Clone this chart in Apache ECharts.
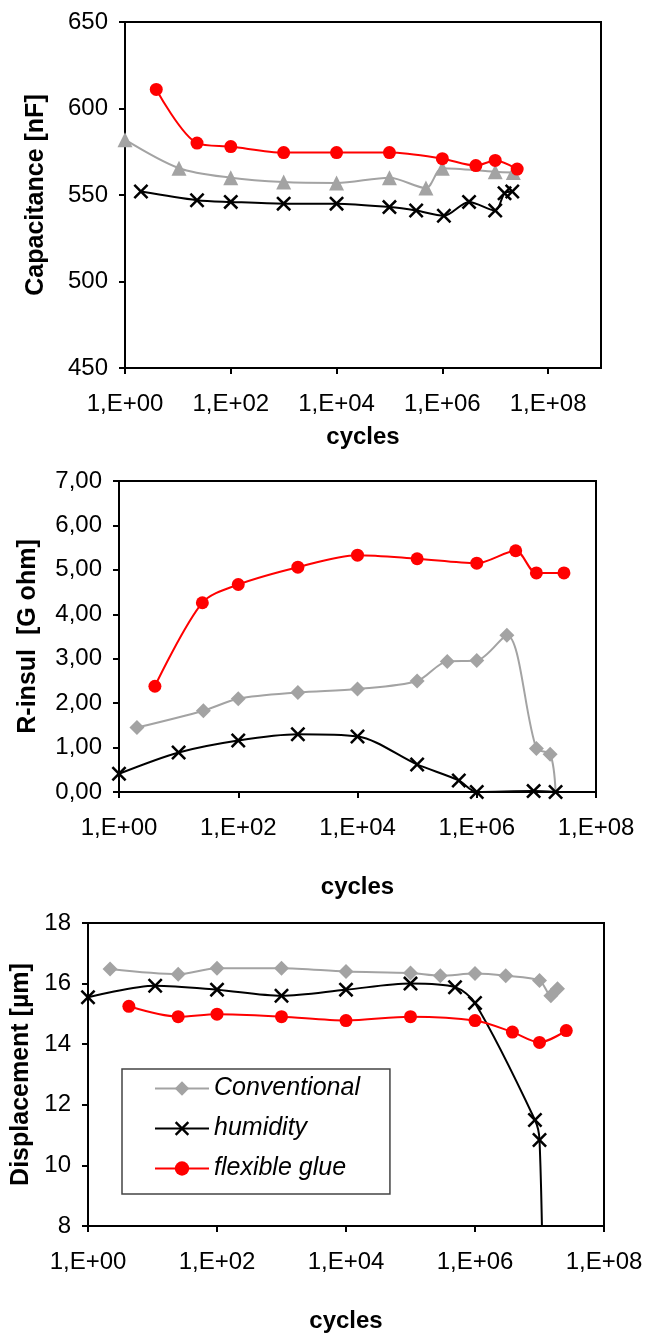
<!DOCTYPE html>
<html><head><meta charset="utf-8">
<script src="https://cdn.jsdelivr.net/npm/echarts@6/dist/echarts.min.js"></script>
<style>html,body{margin:0;padding:0;background:#fff}#c{width:647px;height:1340px}</style>
</head><body><div id="c"></div>
<script>
// ---- data ----
const seriesNames = ['Conventional', 'humidity', 'flexible glue'];
const xTickValues = [1, 1e2, 1e4, 1e6, 1e8];

// Panel 1: Capacitance [nF]
const capConvX = [1, 10.5, 100, 1000, 1e4, 1e5, 4.9e5, 1e6, 1e7, 2.2e7];
const capConvY = [582, 565.5, 560, 557.5, 557, 560, 554, 565.5, 563.5, 563];
const capHumX  = [2, 23, 100, 1000, 1e4, 1e5, 3.2e5, 1.07e6, 3.2e6, 1e7, 1.5e7, 2.1e7];
const capHumY  = [552, 547, 546, 545, 545, 543, 541, 538, 546, 541, 551, 552];
const capGlueX = [3.9, 23, 100, 1000, 1e4, 1e5, 1e6, 4.3e6, 1e7, 2.6e7];
const capGlueY = [611, 580, 578, 574.5, 574.5, 574.5, 571, 567, 570, 565];

// Panel 2: R-insul [G ohm]
const resConvX = [2, 26, 100, 1000, 1e4, 1e5, 3.2e5, 1e6, 3.2e6, 1e7, 1.7e7, 2.1e7];
const resConvY = [1.45, 1.83, 2.1, 2.24, 2.32, 2.5, 2.94, 2.96, 3.53, 0.98, 0.85, 0];
const resHumX  = [1, 10, 100, 1000, 1e4, 1e5, 5e5, 1e6, 9e6, 2.1e7];
const resHumY  = [0.41, 0.89, 1.16, 1.3, 1.25, 0.62, 0.26, 0, 0.02, 0];
const resGlueX = [4, 25, 100, 1000, 1e4, 1e5, 1e6, 4.5e6, 1e7, 2.9e7];
const resGlueY = [2.38, 4.26, 4.67, 5.06, 5.33, 5.25, 5.15, 5.43, 4.93, 4.93];

// Panel 3: Displacement [µm]
const dispConvX = [2.2, 25, 100, 1000, 1e4, 1e5, 2.9e5, 1e6, 3e6, 1e7, 1.5e7, 1.9e7];
const dispConvY = [16.48, 16.31, 16.51, 16.51, 16.4, 16.35, 16.26, 16.33, 16.26, 16.1, 15.6, 15.83];
const dispHumX  = [1, 11, 100, 1000, 1e4, 1e5, 4.9e5, 1e6, 8.5e6, 1e7, 1.15e7];
const dispHumY  = [15.55, 15.93, 15.8, 15.6, 15.8, 16.0, 15.88, 15.36, 11.5, 10.84, 5];
const dispGlueX = [4.3, 25, 100, 1000, 1e4, 1e5, 1e6, 3.8e6, 1e7, 2.6e7];
const dispGlueY = [15.25, 14.91, 14.99, 14.91, 14.78, 14.91, 14.78, 14.4, 14.06, 14.45];

// ---- chart ----
const FONT = '"Liberation Sans", Arial, Helvetica, sans-serif';
const GRAY = '#a3a3a3', RED = '#ff0000', BLACK = '#000000';
const XSYM = 'path://M0,1.2 L1.2,0 L5,3.8 L8.8,0 L10,1.2 L6.2,5 L10,8.8 L8.8,10 L5,6.2 L1.2,10 L0,8.8 L3.8,5 Z';

function pairs(xs, ys) { return xs.map((x, i) => [x, ys[i]]); }
function xLabel(v) { const e = Math.round(Math.log10(v)); return '1,E+' + (e < 10 ? '0' : '') + e; }

function xAxis(gridIndex, max, nameGap) {
  return {
    type: 'log', logBase: 10, gridIndex, min: 1, max,
    name: 'cycles', nameLocation: 'middle', nameGap,
    nameTextStyle: { fontFamily: FONT, fontSize: 24, fontWeight: 'bold', color: '#000' },
    axisLine: { show: true, onZero: false, lineStyle: { color: '#000', width: 2 } },
    axisTick: { show: true, inside: false, length: 6, lineStyle: { color: '#000', width: 2 }, customValues: xTickValues },
    axisLabel: { show: true, margin: 24, fontFamily: FONT, fontSize: 24, color: '#000', formatter: xLabel, customValues: xTickValues },
    splitLine: { show: false }, minorTick: { show: false }, minorSplitLine: { show: false }
  };
}
function yAxis(gridIndex, min, max, interval, name, nameGap, fmt) {
  return {
    type: 'value', gridIndex, min, max, interval,
    name, nameLocation: 'middle', nameGap,
    nameTextStyle: { fontFamily: FONT, fontSize: 25, fontWeight: 'bold', color: '#000' },
    axisLine: { show: true, onZero: false, lineStyle: { color: '#000', width: 2 } },
    axisTick: { show: true, inside: false, length: 6, lineStyle: { color: '#000', width: 2 } },
    axisLabel: { show: true, margin: 17, fontFamily: FONT, fontSize: 24, color: '#000', formatter: fmt },
    splitLine: { show: false }
  };
}
function line(name, idx, xs, ys, kind, convSymbol) {
  const s = {
    name, type: 'line', xAxisIndex: idx, yAxisIndex: idx, data: pairs(xs, ys),
    smooth: 0.3, animation: false, z: 3, clip: true
  };
  if (kind === 'conv') {
    Object.assign(s, { symbol: convSymbol, symbolSize: 15, lineStyle: { color: GRAY, width: 2 }, itemStyle: { color: GRAY, borderWidth: 0 } });
  } else if (kind === 'hum') {
    Object.assign(s, { symbol: XSYM, symbolSize: 15, lineStyle: { color: BLACK, width: 2 }, itemStyle: { color: BLACK, borderWidth: 0 } });
  } else {
    Object.assign(s, { symbol: 'circle', symbolSize: 13, lineStyle: { color: RED, width: 2 }, itemStyle: { color: RED, borderWidth: 0 } });
  }
  return s;
}

const chart = echarts.init(document.getElementById('c'), null, { renderer: 'canvas' });
chart.setOption({
  backgroundColor: '#fff',
  animation: false,
  grid: [
    { left: 125, right: 46, top: 22, height: 346, show: true, borderColor: '#000', borderWidth: 2, containLabel: false },
    { left: 119, right: 51, top: 481, height: 311, show: true, borderColor: '#000', borderWidth: 2, containLabel: false },
    { left: 88, right: 43, top: 923, height: 303, show: true, borderColor: '#000', borderWidth: 2, containLabel: false }
  ],
  xAxis: [xAxis(0, 1e9, 57), xAxis(1, 1e8, 83), xAxis(2, 1e8, 83)],
  yAxis: [
    yAxis(0, 450, 650, 50, 'Capacitance [nF]', 76, v => String(v)),
    yAxis(1, 0, 7, 1, 'R-insul  [G ohm]', 78, v => v.toFixed(2).replace('.', ',')),
    yAxis(2, 8, 18, 2, 'Displacement [µm]', 49, v => String(v))
  ],
  legend: {
    show: true, orient: 'vertical', left: 122, top: 1069,
    data: seriesNames, selectedMode: false,
    itemWidth: 54, itemHeight: 18, itemGap: 15,
    padding: [7, 30, 13, 32],
    borderColor: '#444', borderWidth: 1.5, backgroundColor: '#fff',
    textStyle: { fontFamily: FONT, fontSize: 25, fontStyle: 'italic', color: '#000' }
  },
  series: [
    line(seriesNames[0], 2, dispConvX, dispConvY, 'conv', 'diamond'),
    line(seriesNames[1], 2, dispHumX, dispHumY, 'hum'),
    line(seriesNames[2], 2, dispGlueX, dispGlueY, 'glue'),
    line(seriesNames[0], 0, capConvX, capConvY, 'conv', 'triangle'),
    line(seriesNames[1], 0, capHumX, capHumY, 'hum'),
    line(seriesNames[2], 0, capGlueX, capGlueY, 'glue'),
    line(seriesNames[0], 1, resConvX, resConvY, 'conv', v => (v[1] <= 0.05 ? 'none' : 'diamond')),
    line(seriesNames[1], 1, resHumX, resHumY, 'hum'),
    line(seriesNames[2], 1, resGlueX, resGlueY, 'glue')
  ]
});
</script>
</body></html>
